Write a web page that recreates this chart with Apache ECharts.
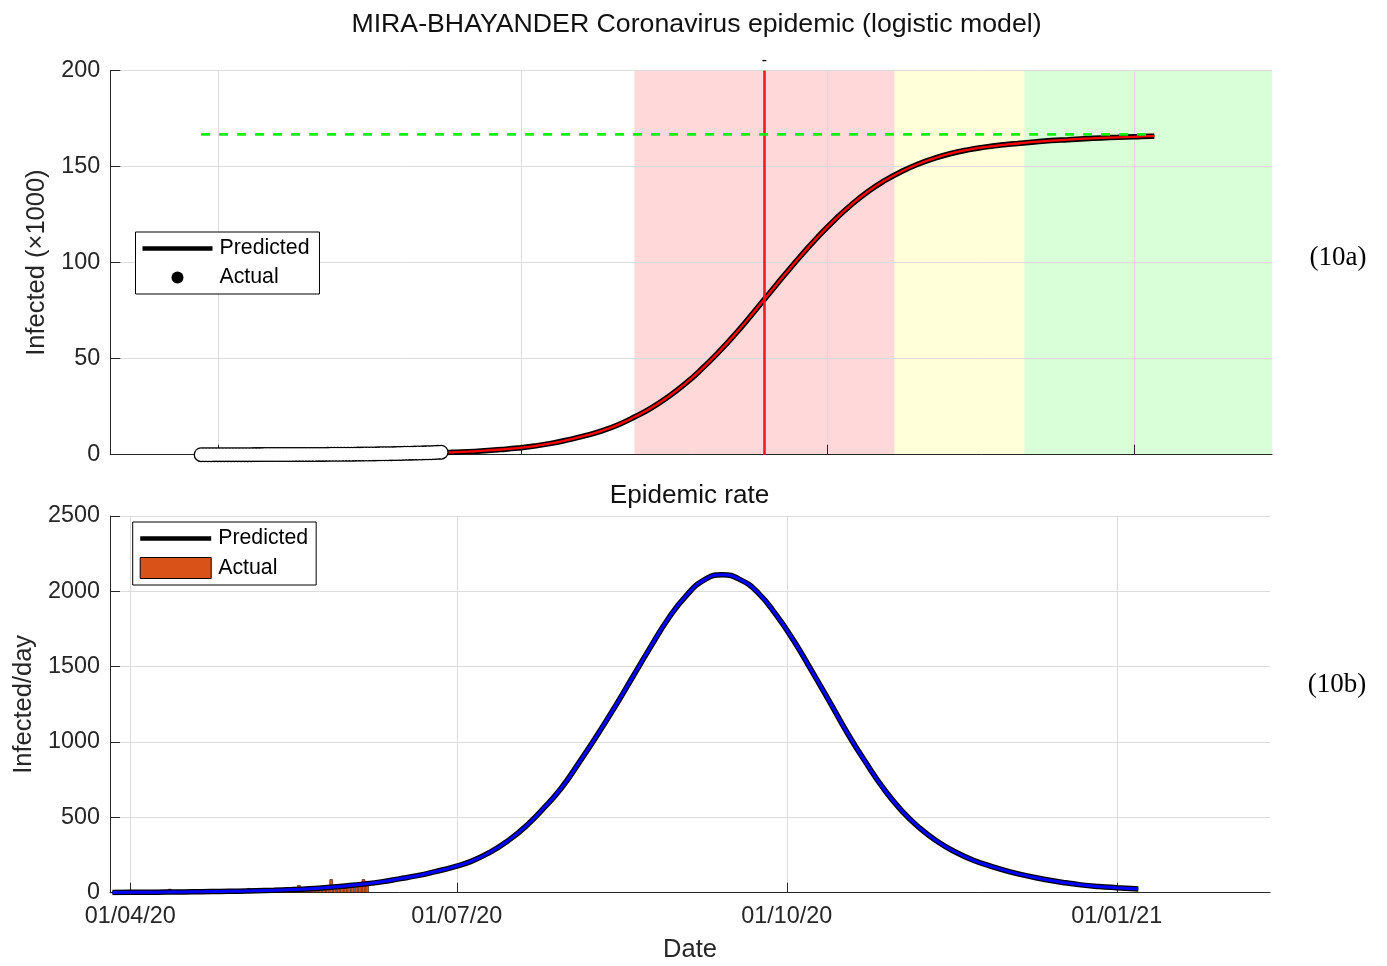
<!DOCTYPE html>
<html>
<head>
<meta charset="utf-8">
<script src="https://cdn.jsdelivr.net/npm/echarts@6/dist/echarts.min.js"></script>
<style>
html,body{margin:0;padding:0;background:#ffffff;}
#chart{width:1387px;height:966px;}
</style>
</head>
<body>
<div id="chart"></div>
<script>
// ---------------- data ----------------
// x tick positions and labels (shared by both panels)
const xTickDates = ['2020-04-01', '2020-07-01', '2020-10-01', '2021-01-01'];
const xTickLabels = ['01/04/20', '01/07/20', '01/10/20', '01/01/21'];

// predicted curves: sampled every 5 days from curveStart, last sample on curveEnd
const curveStart = '2020-03-27';
const curveStepDays = 5;
const curveEnd = '2021-01-07';

// top panel: predicted cumulative infected (x1000)
const cumPredValues = [0.03, 0.04, 0.05, 0.06, 0.08, 0.1, 0.13, 0.17, 0.22, 0.28,
  0.36, 0.46, 0.6, 0.76, 0.97, 1.25, 1.6, 2.1, 2.7, 3.45,
  4.5, 5.9, 7.7, 9.8, 12.3, 15.5, 19.6, 24.3, 30.0, 36.6,
  44.3, 52.9, 62.3, 72.5, 83.0, 93.5, 103.7, 113.3, 122.1, 130.0,
  136.9, 142.6, 147.3, 151.2, 154.3, 156.8, 158.7, 160.1, 161.2, 162.0,
  162.8, 163.5, 164.0, 164.5, 164.9, 165.2, 165.5, 165.8,
  165.8];

// bottom panel: predicted infected/day
const ratePredValues = [2, 2.5, 3, 4, 5, 6.5, 8, 10, 13, 16.5,
  21, 27, 35, 45, 57, 72, 92, 113, 140, 170,
  208, 265, 340, 435, 555, 690, 860, 1040, 1230, 1430,
  1630, 1820, 1972, 2076, 2110, 2078, 1990, 1845, 1670, 1470,
  1265, 1055, 865, 690, 545, 430, 340, 270, 215, 175,
  140, 112, 88, 68, 52, 41, 33, 26,
  25];

// top panel: actual cumulative infected (x1000), one value per day from actualStart
const actualStart = '2020-03-27';
const actualCum = [0.01,0.01,0.01,0.01,0.02,
  0.02,0.02,0.02,0.02,0.02,0.02,0.03,0.03,0.03,0.03,0.03,0.06,0.06,0.06,0.07,0.07,0.07,0.08,0.08,0.09,0.09,0.10,0.10,0.11,0.11,0.12,0.12,0.13,0.14,0.14,
  0.15,0.15,0.16,0.19,0.20,0.21,0.22,0.23,0.24,0.25,0.27,0.28,0.30,0.31,0.33,0.35,0.37,0.42,0.44,0.47,0.49,0.52,0.54,0.57,0.60,0.63,0.72,0.76,0.80,0.83,0.87,
  0.91,0.96,1.00,1.05,1.14,1.22,1.30];

// bottom panel: actual infected/day, one value per day from actualStart
const actualDaily = [0,1,0,1,2,
  0,1,0,2,1,0,3,1,2,0,4,25,
  2,3,1,5,4,2,6,3,5,4,7,3,6,5,8,4,7,6,9,5,8,
  30,10,8,12,9,14,11,15,13,17,12,18,16,20,
  50,22,25,19,28,24,30,27,33,
  89,35,38,32,42,40,45,43,48,
  89,77];

// top panel: plateau (final size) and its span, inflection date, phase zones
const plateauValue = 166.7;
const plateauDates = ['2020-03-27', '2021-01-07'];
const inflectionDate = '2020-09-12';
const zoneStartDates = ['2020-08-04', '2020-10-21', '2020-11-29'];
const zoneEndDates = ['2020-10-21', '2020-11-29', null]; // null = to the right edge
const zoneColors = ['rgba(255,0,0,0.15)', 'rgba(255,255,0,0.15)', 'rgba(0,255,0,0.15)'];

// ---------------- helpers ----------------
const ts = s => new Date(s.length === 10 ? s + 'T00:00:00' : s).getTime();
const stepDates = (start, step, n) => {
  const out = [];
  const d0 = new Date(start + 'T00:00:00');
  for (let i = 0; i < n; i++) {
    out.push(new Date(d0.getFullYear(), d0.getMonth(), d0.getDate() + i * step).getTime());
  }
  return out;
};
const pairs = (dates, vals) => dates.map((d, i) => [typeof d === 'number' ? d : ts(d), vals[i]]);
const curveDates = n => stepDates(curveStart, curveStepDays, n - 1).concat([ts(curveEnd)]);

const xTickTs = xTickDates.map(ts);
const topXMin = ts('2020-02-28T18:00:00');
const topXMax = ts('2021-02-11T07:00:00');
const botXMin = ts('2020-03-26T08:00:00');
const botXMax = ts('2021-02-12T17:00:00');

const FONT = '"Liberation Sans", Arial, Helvetica, sans-serif';
const AX = '#262626';
const GRID = '#dcdcdc';
const TXT = '#262626';
const TICK_FS = 23.4;
const NAME_FS = 25.5;
const LEG_FS = 21.3;
const LINE_ICON = 'path://M0,0 L70,0 L70,4.6 L0,4.6 Z';
const SMOOTH = 0.5;

const cumPred = pairs(curveDates(cumPredValues.length), cumPredValues);
const ratePred = pairs(curveDates(ratePredValues.length), ratePredValues);
const actualCumPts = pairs(stepDates(actualStart, 1, actualCum.length), actualCum);
const actualDailyPts = pairs(stepDates(actualStart, 1, actualDaily.length), actualDaily);

const legendNames = {'Predicted': 'Predicted', 'Actual': 'Actual', 'Predicted rate': 'Predicted', 'Actual rate': 'Actual'};

function xAxisCfg(grid, min, max, showLabels) {
  return {
    type: 'value', gridIndex: grid, min: min, max: max, z: 3, scale: true,
    axisLine: {show: true, onZero: false, lineStyle: {color: AX, width: 1}},
    axisTick: {show: true, inside: true, length: 10, customValues: xTickTs, lineStyle: {color: AX, width: 1}},
    axisLabel: {
      show: showLabels, customValues: xTickTs, margin: 12,
      showMinLabel: true, showMaxLabel: true,
      fontFamily: FONT, fontSize: TICK_FS, color: TXT,
      formatter: v => {
        let best = -1, bd = Infinity;
        xTickTs.forEach((t, i) => { const dd = Math.abs(t - v); if (dd < bd) { bd = dd; best = i; } });
        return bd < 86400000 ? xTickLabels[best] : '';
      }
    },
    splitLine: {show: true, lineStyle: {color: GRID, width: 1}}
  };
}
function yAxisCfg(grid, max, interval, name, gap) {
  return {
    type: 'value', gridIndex: grid, min: 0, max: max, interval: interval, z: 3,
    name: name, nameLocation: 'middle', nameGap: gap,
    nameTextStyle: {fontFamily: FONT, fontSize: NAME_FS, color: TXT},
    axisLine: {show: true, lineStyle: {color: AX, width: 1}},
    axisTick: {show: true, inside: true, length: 10, lineStyle: {color: AX, width: 1}},
    axisLabel: {fontFamily: FONT, fontSize: TICK_FS, color: TXT, margin: 10, formatter: v => String(v)},
    splitLine: {show: true, lineStyle: {color: GRID, width: 1}}
  };
}

const zones = zoneStartDates.map((s, i) => [
  {xAxis: ts(s), itemStyle: {color: zoneColors[i]}},
  {xAxis: zoneEndDates[i] ? ts(zoneEndDates[i]) : topXMax}
]);

const option = {
  animation: false,
  backgroundColor: '#ffffff',
  title: [
    {text: 'MIRA-BHAYANDER Coronavirus epidemic (logistic model)', left: 696.5, top: 11, textAlign: 'center', padding: 0,
     textStyle: {fontFamily: FONT, fontSize: 26.7, fontWeight: 'normal', color: '#111'}},
    {text: 'Epidemic rate', left: 689.5, top: 483, textAlign: 'center', padding: 0,
     textStyle: {fontFamily: FONT, fontSize: 26.1, fontWeight: 'normal', color: '#111'}}
  ],
  grid: [
    {left: 110.3, right: 115, top: 70.5, height: 384.2, outerBoundsMode: 'none'},
    {left: 110, right: 117, top: 516, height: 376.7, outerBoundsMode: 'none'}
  ],
  legend: [
    {
      left: 135.5, top: 232, orient: 'vertical', selectedMode: false,
      data: [{name: 'Predicted', icon: LINE_ICON}, {name: 'Actual', icon: 'circle'}],
      itemWidth: 70, itemHeight: 12, itemGap: 8, padding: [6, 10, 6, 7],
      backgroundColor: '#fff', borderColor: '#000', borderWidth: 1, borderRadius: 0,
      formatter: n => legendNames[n],
      textStyle: {fontFamily: FONT, fontSize: LEG_FS, color: '#000', lineHeight: 21, padding: [0, 0, 0, 2]}
    },
    {
      left: 132.7, top: 522, orient: 'vertical', selectedMode: false,
      data: [{name: 'Predicted rate', icon: LINE_ICON}, {name: 'Actual rate', icon: 'rect', itemStyle: {borderColor: '#000', borderWidth: 1}}],
      itemWidth: 71, itemHeight: 21, itemGap: 8, padding: [6, 8, 6, 7],
      backgroundColor: '#fff', borderColor: '#000', borderWidth: 1, borderRadius: 0,
      formatter: n => legendNames[n],
      textStyle: {fontFamily: FONT, fontSize: LEG_FS, color: '#000', lineHeight: 21, padding: [0, 0, 0, 2]}
    }
  ],
  xAxis: [
    xAxisCfg(0, topXMin, topXMax, false),
    Object.assign(xAxisCfg(1, botXMin, botXMax, true), {
      name: 'Date', nameLocation: 'middle', nameGap: 44,
      nameTextStyle: {fontFamily: FONT, fontSize: NAME_FS, color: TXT}
    })
  ],
  yAxis: [
    yAxisCfg(0, 200, 50, 'Infected (\u00d71000)', 56),
    yAxisCfg(1, 2500, 500, 'Infected/day', 71)
  ],
  graphic: [
    {type: 'text', x: 1338, y: 258, style: {text: '(10a)', font: '27px "Liberation Serif", "Times New Roman", serif', fill: '#000', align: 'center', verticalAlign: 'middle'}},
    {type: 'text', x: 1337, y: 685, style: {text: '(10b)', font: '27px "Liberation Serif", "Times New Roman", serif', fill: '#000', align: 'center', verticalAlign: 'middle'}}
  ],
  series: [
    // phase zones (top)
    {type: 'line', name: 'zones', xAxisIndex: 0, yAxisIndex: 0, data: [], z: 1, silent: true,
     markArea: {silent: true, z: 1, label: {show: false}, data: zones}},
    // predicted cumulative: black outline + red fit
    {type: 'line', name: 'Predicted', xAxisIndex: 0, yAxisIndex: 0, data: cumPred, symbol: 'none',
     smooth: SMOOTH, lineStyle: {color: '#000', width: 5.5}, itemStyle: {color: '#000'}, z: 5, silent: true},
    {type: 'line', name: 'fit', xAxisIndex: 0, yAxisIndex: 0, data: cumPred, symbol: 'none',
     smooth: SMOOTH, lineStyle: {color: '#ff0000', width: 2.3}, z: 6, silent: true,
     markLine: {silent: true, z: 6, symbol: ['none', 'none'], animation: false,
       lineStyle: {color: '#ff1a1a', width: 2.6, type: 'solid'},
       label: {show: true, position: 'end', formatter: '-', fontSize: 16, color: '#000', distance: 2},
       data: [{xAxis: ts(inflectionDate)}]}},
    // actual cumulative: black outline circles underneath, white faces on top
    {type: 'scatter', name: 'Actual', xAxisIndex: 0, yAxisIndex: 0, data: actualCumPts,
     symbol: 'circle', symbolSize: 15, itemStyle: {color: '#000', opacity: 1}, z: 7, silent: true},
    {type: 'scatter', name: 'actual face', xAxisIndex: 0, yAxisIndex: 0, data: actualCumPts,
     symbol: 'circle', symbolSize: 12.4, itemStyle: {color: '#fff', opacity: 1}, z: 8, silent: true},
    // plateau
    {type: 'line', name: 'plateau', xAxisIndex: 0, yAxisIndex: 0,
     data: plateauDates.map(d => [ts(d), plateauValue]), symbol: 'none',
     lineStyle: {color: '#11ee11', width: 2.8, type: [9, 9]}, z: 9, silent: true},

    // bottom: actual daily bars
    {type: 'bar', name: 'Actual rate', xAxisIndex: 1, yAxisIndex: 1, data: actualDailyPts,
     barWidth: 3.4, itemStyle: {color: '#D95319', borderColor: '#000', borderWidth: 0.5}, z: 4, silent: true},
    // bottom: predicted rate, black outline + blue
    {type: 'line', name: 'Predicted rate', xAxisIndex: 1, yAxisIndex: 1, data: ratePred, symbol: 'none',
     smooth: SMOOTH, lineStyle: {color: '#000', width: 5.5}, itemStyle: {color: '#000'}, z: 5, silent: true},
    {type: 'line', name: 'rate fit', xAxisIndex: 1, yAxisIndex: 1, data: ratePred, symbol: 'none',
     smooth: SMOOTH, lineStyle: {color: '#0000ff', width: 3}, z: 6, silent: true}
  ]
};

const chart = echarts.init(document.getElementById('chart'), null, {renderer: 'canvas'});
chart.setOption(option);
</script>
</body>
</html>
